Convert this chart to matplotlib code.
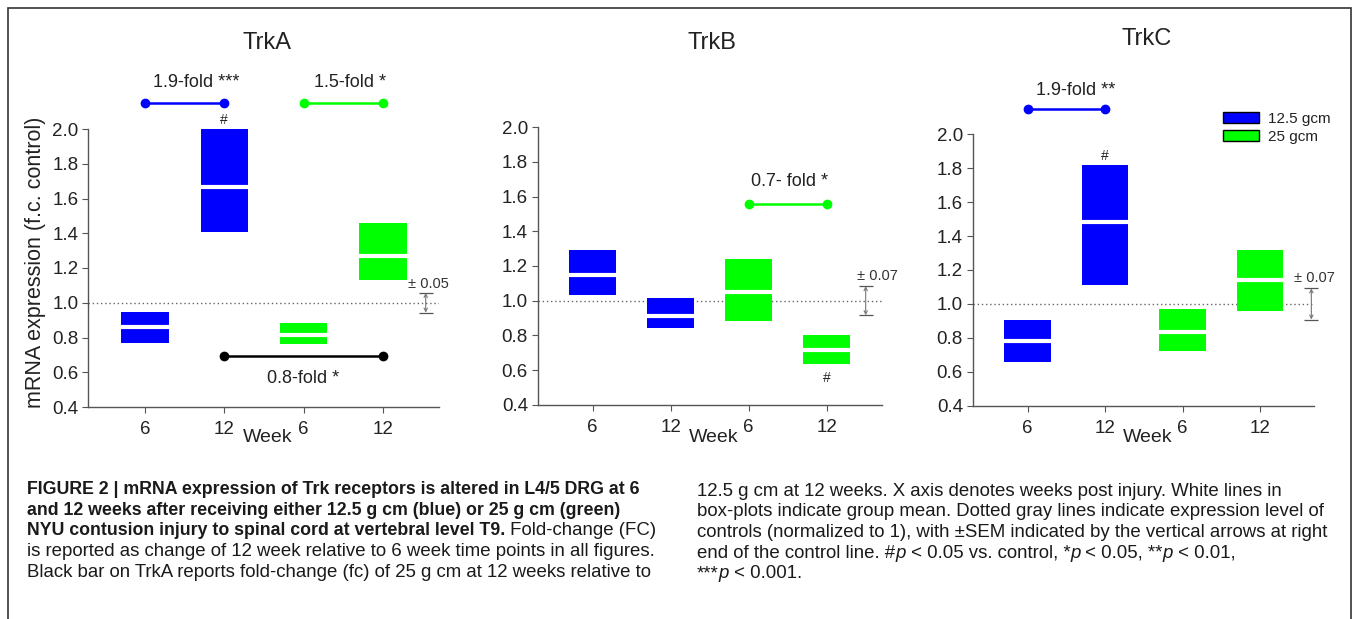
import matplotlib.pyplot as plt
from matplotlib.patches import Patch, Rectangle

W, H = 1356, 619

# groups along the x axis of every panel
weeks = ['6', '12', '6', '12']
doses = ['12.5 gcm', '12.5 gcm', '25 gcm', '25 gcm']
dose_colors = {'12.5 gcm': '#0000ff', '25 gcm': '#00ff00'}

# box-plot values (low / high / mean)
trka_low = [0.77, 1.41, 0.765, 1.13]
trka_high = [0.945, 2.00, 0.885, 1.46]
trka_mean = [0.86, 1.665, 0.815, 1.27]

trkb_low = [1.035, 0.84, 0.885, 0.635]
trkb_high = [1.295, 1.015, 1.24, 0.80]
trkb_mean = [1.15, 0.91, 1.05, 0.715]

trkc_low = [0.655, 1.11, 0.72, 0.96]
trkc_high = [0.905, 1.82, 0.97, 1.32]
trkc_mean = [0.78, 1.485, 0.835, 1.14]

# control SEM (drawn span) and stated value
sem_span = [0.057, 0.084, 0.092]
sem_text = ['± 0.05', '± 0.07', '± 0.07']

# fold-change brackets: (from group, to group, label)
trka_folds = [(0, 1, '1.9-fold ***'), (2, 3, '1.5-fold *'), (1, 3, '0.8-fold *')]
trkb_folds = [(2, 3, '0.7- fold *')]
trkc_folds = [(0, 1, '1.9-fold **')]

# groups marked with # (p<0.05 vs control)
trka_hash = [1]
trkb_hash = [3]
trkc_hash = [1]

FONT = ['Liberation Sans', 'DejaVu Sans']
plt.rcParams['font.family'] = FONT

fig = plt.figure(figsize=(W / 100, H / 100), dpi=100)

# pixel geometry: axis left, top(2.0), right, bottom(0.4), first tick, tick step
panels = [
    dict(name='TrkA', low=trka_low, high=trka_high, mean=trka_mean, folds=trka_folds,
         hashes=trka_hash, geo=(88, 129, 439, 407, 145, 79.3),
         fold_y=[(2.15, 2.265, 0.65), (2.15, 2.265, 2.59), (0.695, 0.562, 2.0)],
         fold_c=['#0000ff', '#00ff00', 'black'], hash_side=[1],
         sem_x=3.54, sem_lab=(3.32, 1.11), title_xy=(267, 43)),
    dict(name='TrkB', low=trkb_low, high=trkb_high, mean=trkb_mean, folds=trkb_folds,
         hashes=trkb_hash, geo=(537.7, 127.3, 881.7, 404.7, 592.7, 78.0),
         fold_y=[(1.556, 1.69, 2.53)], fold_c=['#00ff00'], hash_side=[-1],
         sem_x=3.50, sem_lab=(3.39, 1.14), title_xy=(712, 43)),
    dict(name='TrkC', low=trkc_low, high=trkc_high, mean=trkc_mean, folds=trkc_folds,
         hashes=trkc_hash, geo=(972.7, 134.3, 1314.3, 405.7, 1027.7, 77.5),
         fold_y=[(2.15, 2.26, 0.62)], fold_c=['#0000ff'], hash_side=[1],
         sem_x=3.66, sem_lab=(3.43, 1.15), title_xy=(1147, 39)),
]

for k, p in enumerate(panels):
    left, top, right, bottom, t0, dt = p['geo']
    ax = fig.add_axes([left / W, 1 - bottom / H, (right - left) / W, (bottom - top) / H])
    x = list(range(len(weeks)))
    ax.set_xlim((left - t0) / dt, (right - t0) / dt)
    ax.set_ylim(0.4, 2.0)
    for s in ['top', 'right']:
        ax.spines[s].set_visible(False)
    for s in ['left', 'bottom']:
        ax.spines[s].set_color('#555555')
        ax.spines[s].set_linewidth(1)
    ax.set_yticks([0.4, 0.6, 0.8, 1.0, 1.2, 1.4, 1.6, 1.8, 2.0])
    ax.set_yticklabels(['%.1f' % v for v in ax.get_yticks()])
    ax.set_xticks(x)
    ax.set_xticklabels(weeks)
    ax.tick_params(axis='both', direction='out', length=4, width=0.8, color='#555555',
                   labelsize=13.5, labelcolor='#222222', pad=3)
    ax.tick_params(axis='x', pad=6)

    # control level
    ax.axhline(1.0, color='#666666', lw=1, ls=(0, (1, 2)), zorder=1)

    cols = [dose_colors[d] for d in doses]
    heights = [h - l for h, l in zip(p['high'], p['low'])]
    ax.bar(x, heights, bottom=p['low'], width=0.6, color=cols, zorder=2)
    ax.hlines(p['mean'], [i - 0.3 for i in x], [i + 0.3 for i in x], color='white', lw=3, zorder=3)

    # # markers
    for g, side in zip(p['hashes'], p['hash_side']):
        yy = p['high'][g] + 0.05 if side > 0 else p['low'][g] - 0.08
        ax.text(g, yy, '#', ha='center', va='center', fontsize=10, color='#222222')

    # fold-change brackets
    for (a, b, lab), (ly, ty, tx), c in zip(p['folds'], p['fold_y'], p['fold_c']):
        ax.plot([a, b], [ly, ly], '-o', color=c, lw=1.8, ms=6, clip_on=False, zorder=4)
        ax.text(tx, ty, lab, ha='center', va='center', fontsize=13, color='#222222')

    # control SEM arrow
    s = sem_span[k]
    ax.annotate('', xy=(p['sem_x'], 1 + s), xytext=(p['sem_x'], 1 - s),
                arrowprops=dict(arrowstyle='<->', color='#777777', lw=0.8,
                                shrinkA=0, shrinkB=0, mutation_scale=6),
                annotation_clip=False)
    ax.hlines([1 - s, 1 + s], p['sem_x'] - 0.09, p['sem_x'] + 0.09, color='#555555',
              lw=0.9, clip_on=False)
    ax.text(p['sem_lab'][0], p['sem_lab'][1], sem_text[k], ha='left', va='center',
            fontsize=10.5, color='#333333')

    # title and week label
    fig.text(p['title_xy'][0] / W, 1 - p['title_xy'][1] / H, p['name'], ha='center',
             va='center', fontsize=17, color='#222222')
    wx = (t0 + 1.55 * dt) / W
    fig.text(wx, 1 - 438 / H, 'Week', ha='center', va='center', fontsize=14, color='#222222')

    if k == 0:
        fig.text(36 / W, 1 - 262 / H, 'mRNA expression (f.c. control)', rotation=90,
                 ha='center', va='center', fontsize=15.5, color='#222222')
    if k == 2:
        handles = [Patch(facecolor=dose_colors[d], edgecolor='black', lw=1)
                   for d in ['12.5 gcm', '25 gcm']]
        fig.legend(handles, ['12.5 gcm', '25 gcm'], loc='upper left',
                   bbox_to_anchor=(1223 / W, 1 - 112 / H), frameon=False, fontsize=11,
                   handlelength=2.35, handleheight=0.75, handletextpad=0.6,
                   labelspacing=0.25, borderpad=0, borderaxespad=0, labelcolor='#222222')

# frame around the figure
fig.add_artist(Rectangle((8 / W, -0.05), (1351 - 8) / W, 1.05 - 8 / H,
                         transform=fig.transFigure, fill=False, edgecolor='#333333', lw=1.2))

# caption, drawn as chained text pieces
cap = fig.add_axes([0, 0, 1, 1])
cap.axis('off')
cap.set_zorder(-1)
SIZE_BOLD = 12.8
SIZE_REG = 13.4


def caption_line(px, py, parts):
    prev = None
    for txt, weight, style in parts:
        kw = dict(fontsize=SIZE_BOLD if weight == 'bold' else SIZE_REG, fontweight=weight,
                  fontstyle=style, color='#1a1a1a', ha='left')
        if prev is None:
            prev = cap.text(px / W, 1 - py / H, txt, transform=fig.transFigure,
                            va='baseline', **kw)
        else:
            prev = cap.annotate(txt, xy=(1, 0), xycoords=prev, va='bottom', **kw)


B, N, I = 'bold', 'normal', 'italic'
col1 = [
    [('FIGURE 2 | mRNA expression of Trk receptors is altered in L4/5 DRG at 6', B, N)],
    [('and 12 weeks after receiving either 12.5 g cm (blue) or 25 g cm (green)', B, N)],
    [('NYU contusion injury to spinal cord at vertebral level T9.', B, N),
     (' Fold-change (FC)', N, N)],
    [('is reported as change of 12 week relative to 6 week time points in all figures.', N, N)],
    [('Black bar on TrkA reports fold-change (fc) of 25 g cm at 12 weeks relative to', N, N)],
]
col2 = [
    [('12.5 g cm at 12 weeks. X axis denotes weeks post injury. White lines in', N, N)],
    [('box-plots indicate group mean. Dotted gray lines indicate expression level of', N, N)],
    [('controls (normalized to 1), with \u00b1SEM indicated by the vertical arrows at right', N, N)],
    [('end of the control line. #', N, N), ('p', N, I), (' < 0.05 vs. control, *', N, N),
     ('p', N, I), (' < 0.05, **', N, N), ('p', N, I), (' < 0.01,', N, N)],
    [('***', N, N), ('p', N, I), (' < 0.001.', N, N)],
]
for i, parts in enumerate(col1):
    caption_line(27, 494 + 20.7 * i, parts)
for i, parts in enumerate(col2):
    caption_line(697, 496 + 20.5 * i, parts)

fig.savefig('out.png', dpi=100)
